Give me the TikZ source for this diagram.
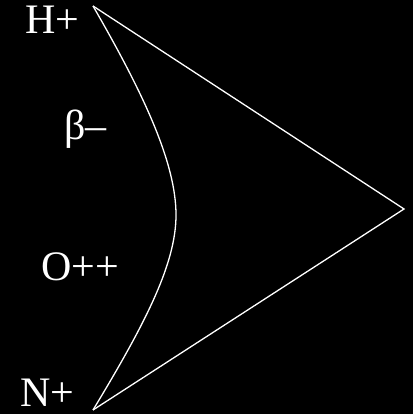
\documentclass[tikz,border=0pt]{standalone}
\usepackage{fontspec}
\setmainfont{Liberation Serif}
\begin{document}
\begin{tikzpicture}[x=1pt,y=1pt,
  lbl/.style={text=white,inner sep=0pt,anchor=base west,font=\fontsize{42}{45}\selectfont},
  wline/.style={draw=white,line width=1.3pt,line join=miter}]
\fill[black] (0,0) rectangle (413,414);
\useasboundingbox (0,0) rectangle (413,414);
\coordinate (A) at (93,408);
\coordinate (B) at (404,205);
\coordinate (C) at (93,4);
\coordinate (M) at (176,199);
\draw[wline] (A) -- (B) -- (C);
\draw[wline] (A) .. controls (145,318) and (176,250) .. (M) .. controls (176,150) and (145,90) .. (C);
\node[lbl] (h) at (25,380) {H+};
\node[lbl] (b) at (64,274) {β–};
\node[lbl] (o) at (41,133) {O++};
\node[lbl,text depth=0pt] (n) at (20,8) {N+};
\end{tikzpicture}
\end{document}
